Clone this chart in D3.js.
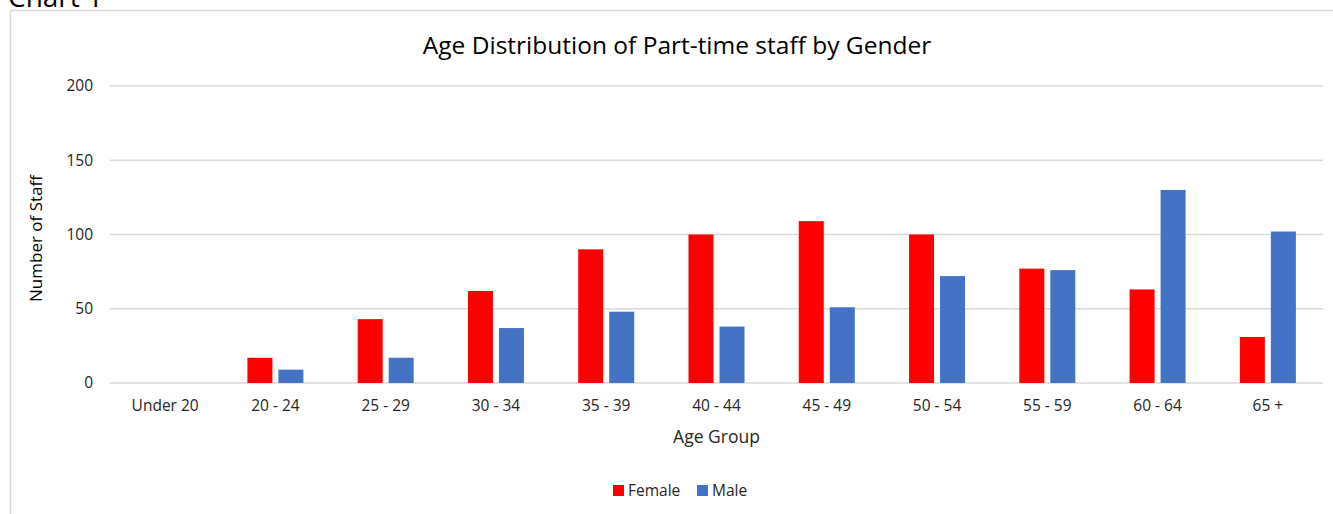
<!DOCTYPE html>
<html>
<head>
<meta charset="utf-8">
<script src="https://cdn.jsdelivr.net/npm/d3@7"></script>
<style>
  body { margin: 0; background: #fff; }
  svg { display: block; font-family: "Open Sans", "Noto Sans", sans-serif; }
</style>
</head>
<body>
<div id="chart"></div>
<script>
var ageGroups = ["Under 20", "20 - 24", "25 - 29", "30 - 34", "35 - 39", "40 - 44", "45 - 49", "50 - 54", "55 - 59", "60 - 64", "65 +"]
var female = [0, 17, 43, 62, 90, 100, 109, 100, 77, 63, 31]
var male = [0, 9, 17, 37, 48, 38, 51, 72, 76, 130, 102]
var yTicks = [0, 50, 100, 150, 200]
var seriesNames = ["Female", "Male"]
var colors = ["#ff0000", "#4472c4"]

var W = 1333, H = 514
var margin = {top: 86, right: 10, bottom: 131, left: 110},
  width = 1323 - margin.left,
  height = 383 - margin.top

var svg = d3.select("#chart").append("svg")
  .attr("width", W)
  .attr("height", H)

// outer chart frame
svg.append("rect")
  .attr("x", 10.5).attr("y", 10.5)
  .attr("width", 1340).attr("height", 520)
  .attr("fill", "none").attr("stroke", "#d9d9d9").attr("stroke-width", 1.5)

svg.append("text")
  .attr("x", 8).attr("y", 7)
  .attr("font-size", 28)
  .attr("fill", "#000")
  .text("Chart 1")

var g = svg.append("g")
  .attr("transform", "translate(" + margin.left + "," + margin.top + ")")

var x = d3.scaleBand()
  .domain(ageGroups)
  .range([0, width])

var y = d3.scaleLinear()
  .domain([0, 200])
  .range([height, 0])

// gridlines
g.append("g")
  .selectAll("line")
  .data(yTicks)
  .enter().append("line")
    .attr("x1", 0).attr("x2", width)
    .attr("y1", d => y(d)).attr("y2", d => y(d))
    .attr("stroke", "#d9d9d9")
    .attr("stroke-width", 1.5)

var yAxis = g.append("g")
  .call(d3.axisLeft(y).tickValues(yTicks).tickSize(0).tickPadding(17))
yAxis.select(".domain").remove()
yAxis.selectAll("text").attr("font-size", 15.5).attr("fill", "#262626")
  .attr("font-family", "'Open Sans', sans-serif")

var xAxis = g.append("g")
  .attr("transform", "translate(0," + height + ")")
  .call(d3.axisBottom(x).tickSize(0).tickPadding(17))
xAxis.select(".domain").remove()
xAxis.selectAll("text").attr("font-size", 15.5).attr("fill", "#262626")
  .attr("font-family", "'Open Sans', sans-serif")

var barW = 25, gap = 6
var xs = d3.scaleOrdinal().domain(seriesNames).range([-(barW + gap / 2), gap / 2])

var data = ageGroups.map(function(a, i) {
  return {group: a, values: [female[i], male[i]]}
})

var groups = g.selectAll(".grp")
  .data(data)
  .enter().append("g")
    .attr("class", "grp")
    .attr("transform", d => "translate(" + (x(d.group) + x.bandwidth() / 2) + ",0)")

groups.selectAll("rect")
  .data(d => d.values.map((v, i) => ({name: seriesNames[i], value: v, color: colors[i]})))
  .enter().append("rect")
    .attr("x", d => xs(d.name))
    .attr("width", barW)
    .attr("y", d => y(d.value))
    .attr("height", d => height - y(d.value))
    .attr("fill", d => d.color)

svg.append("text")
  .attr("x", 677).attr("y", 54)
  .attr("text-anchor", "middle")
  .attr("font-size", 24.5)
  .attr("fill", "#000")
  .text("Age Distribution of Part-time staff by Gender")

svg.append("text")
  .attr("transform", "translate(42," + (margin.top + height / 2 + 4) + ") rotate(-90)")
  .attr("text-anchor", "middle")
  .attr("font-size", 17)
  .attr("fill", "#000")
  .text("Number of Staff")

svg.append("text")
  .attr("x", margin.left + width / 2).attr("y", 443)
  .attr("text-anchor", "middle")
  .attr("font-size", 17.5)
  .attr("fill", "#262626")
  .text("Age Group")

var legend = svg.append("g").attr("transform", "translate(613,485)")
var legX = [0, 84]
seriesNames.forEach(function(n, i) {
  legend.append("rect")
    .attr("x", legX[i]).attr("y", 0)
    .attr("width", 11).attr("height", 11)
    .attr("fill", colors[i])
  legend.append("text")
    .attr("x", legX[i] + 15).attr("y", 11)
    .attr("font-size", 15.5)
    .attr("fill", "#262626")
    .text(n)
})
</script>
</body>
</html>
